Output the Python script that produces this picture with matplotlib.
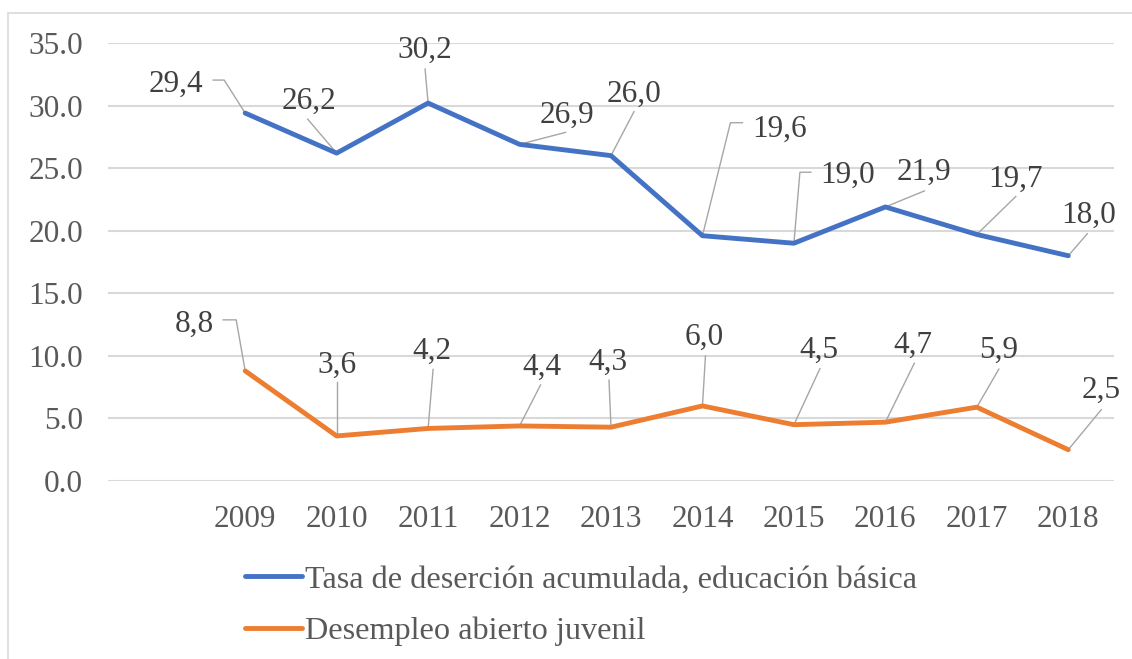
import numpy as np
import matplotlib
matplotlib.use("Agg")
import matplotlib.pyplot as plt
import matplotlib.transforms as mtransforms
from matplotlib.patches import Rectangle

plt.rcParams['font.family'] = ['Liberation Serif', 'DejaVu Serif']

# Data (first category is blank in the original chart)
categories = ["", "2009", "2010", "2011", "2012", "2013",
              "2014", "2015", "2016", "2017", "2018"]
desercion = [29.4, 26.2, 30.2, 26.9, 26.0, 19.6, 19.0, 21.9, 19.7, 18.0]
desempleo = [8.8, 3.6, 4.2, 4.4, 4.3, 6.0, 4.5, 4.7, 5.9, 2.5]
y_ticks = [0, 5, 10, 15, 20, 25, 30, 35]
series_names = ["Tasa de deserción acumulada, educación básica",
                "Desempleo abierto juvenil"]

# Label placement (pixel offsets from the data point: text anchor, leader line path)
desercion_text = [(-69, 21), (-28, 44), (-3, 45), (47, 22), (23, 54),
                  (77, 99), (54, 60), (39, 27), (39, 48), (20, 33)]
desercion_lead = [[(-21, 33), (-32, 33)], [(-29, 34)], [(-3, 34)], [(46, 12)], [(23, 44)],
                  [(28, 113), (40, 113)], [(6, 71), (17, 71)], [(39, 16)], [(39, 38)], [(19, 22)]]
desempleo_text = [(-51, 39), (0, 63), (4, 70), (22, 51), (-3, 57),
                  (2, 61), (25, 67), (28, 69), (22, 49), (33, 52)]
desempleo_lead = [[(-9, 51), (-22, 51)], [(0, 54)], [(5, 59)], [(21, 41)], [(-2, 47)],
                  [(3, 50)], [(26, 56)], [(29, 59)], [(22, 38)], [(33, 40)]]

BLUE = "#4472C4"
ORANGE = "#ED7D31"
GRID = "#D9D9D9"
LEADER = "#A6A6A6"
FS = 22.5

W, H = 1132, 659
fig = plt.figure(figsize=(W / 100, H / 100), dpi=100)
ax = fig.add_axes([108 / W, 1 - 481 / H, (1114 - 108) / W, (481 - 43) / H])

# chart border
fig.patches.append(Rectangle((8 / W, -0.1), 1.2, 1.1 - 13 / H, transform=fig.transFigure,
                             fill=False, edgecolor=GRID, lw=1.2))

x = np.arange(1, len(categories))
ax.plot(x, desercion, color=BLUE, lw=3.5, solid_capstyle='round', zorder=3,
        label=series_names[0])
ax.plot(x, desempleo, color=ORANGE, lw=3.5, solid_capstyle='round', zorder=3,
        label=series_names[1])

ax.set_xlim(-0.5, len(categories) - 0.5)
ax.set_ylim(0, 35)
ax.set_yticks(y_ticks)
ax.set_yticklabels([f"{v:.1f}" for v in y_ticks])
ax.set_xticks(np.arange(len(categories)))
ax.set_xticklabels(categories)
ax.tick_params(axis='y', length=0, pad=18, labelsize=FS, labelcolor="#595959")
ax.tick_params(axis='x', length=0, pad=17, labelsize=FS, labelcolor="#595959")
ax.grid(axis='y', color=GRID, lw=1.5)
ax.set_axisbelow(True)
for s in ax.spines.values():
    s.set_visible(False)


def add_labels(values, text_off, leads):
    for xi, v, (dx, dy), path in zip(x, values, text_off, leads):
        tr = fig.dpi_scale_trans + mtransforms.ScaledTranslation(xi, v, ax.transData)
        px = [0] + [p[0] / 100 for p in path]
        py = [0] + [p[1] / 100 for p in path]
        ax.plot(px, py, color=LEADER, lw=1, transform=tr, zorder=2, clip_on=False)
        ax.annotate(f"{v:.1f}".replace('.', ','), xy=(xi, v), xytext=(dx, dy),
                    textcoords='offset pixels', ha='center', va='baseline',
                    fontsize=FS, color="#404040", zorder=4)


add_labels(desercion, desercion_text, desercion_lead)
add_labels(desempleo, desempleo_text, desempleo_lead)

leg = fig.legend(loc='upper left', bbox_to_anchor=(245 / W, 1 - 565 / H), frameon=False,
                 fontsize=23.2, handlelength=1.77, handletextpad=0.1, labelspacing=0.68,
                 borderpad=0, borderaxespad=0)
for t in leg.get_texts():
    t.set_color("#595959")

fig.savefig("out.png", dpi=100)
